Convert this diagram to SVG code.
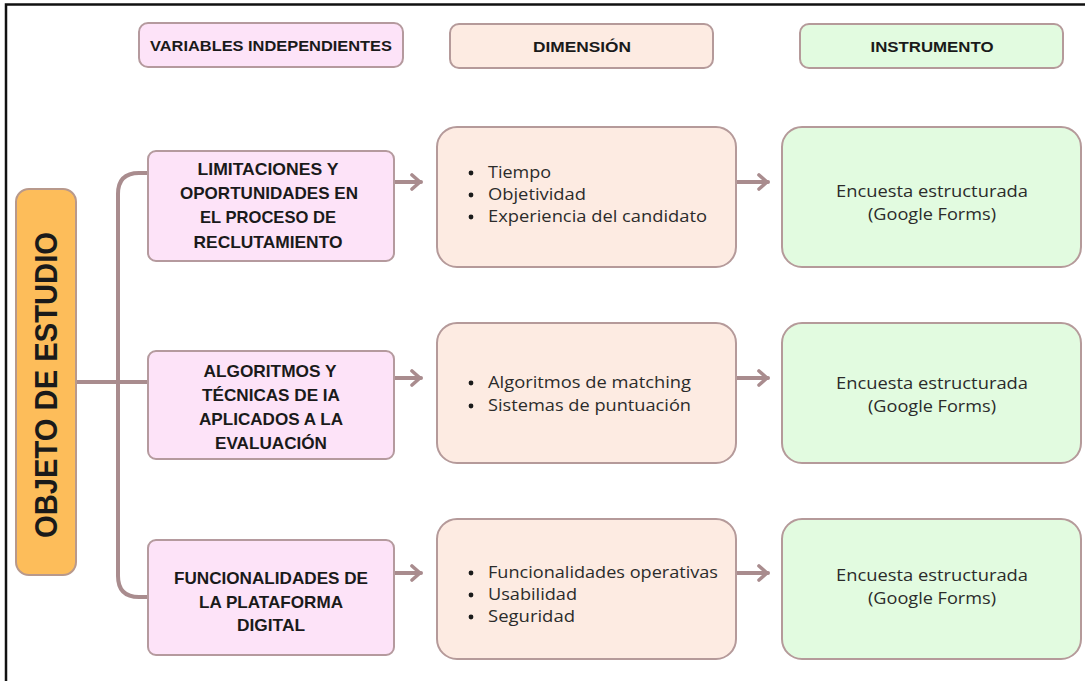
<svg xmlns="http://www.w3.org/2000/svg" width="1085" height="681" viewBox="0 0 1085 681">
  <defs>
    <style>
      .frame { fill: none; stroke: #111; stroke-width: 2.5; }
      .var { fill: #fde3f8; stroke: #b59a9e; stroke-width: 2; }
      .dim { fill: #fdebe2; stroke: #b59a9a; stroke-width: 2; }
      .ins { fill: #e2fbe0; stroke: #b59a9a; stroke-width: 2; }
      .obj { fill: #fdbd5a; stroke: #b8998c; stroke-width: 2; }
      .head { font-family: "Liberation Sans", "Arimo", sans-serif; font-weight: 700; font-size: 15.5px; fill: #1a1a1a; text-anchor: middle; }
      .vt { font-family: "Liberation Sans", "Arimo", sans-serif; font-weight: 700; font-size: 17px; fill: #1a1a1a; text-anchor: middle; }
      .bul { font-family: "Open Sans", "Liberation Sans", sans-serif; font-size: 15.5px; fill: #2b2b2b; }
      .ct { font-family: "Open Sans", "Liberation Sans", sans-serif; font-size: 15.5px; fill: #2b2b2b; text-anchor: middle; }
      .big { font-family: "Liberation Sans", "Arimo", sans-serif; font-weight: 700; font-size: 31px; fill: #1a1a1a; text-anchor: middle; }
      .dot { fill: #1a1a1a; }
      .link { fill: none; stroke: #a98c8e; stroke-width: 4; stroke-linecap: round; stroke-linejoin: round; }
    </style>
    <marker id="chev" viewBox="0 0 12 18" refX="11" refY="9" markerWidth="12" markerHeight="18" markerUnits="userSpaceOnUse" orient="auto">
      <path d="M2 2 L10 9 L2 16" fill="none" stroke="#a98c8e" stroke-width="3.6" stroke-linecap="round" stroke-linejoin="round"/>
    </marker>
  </defs>

  <rect width="1085" height="681" fill="#ffffff"/>
  <!-- outer frame (open at right and bottom edges) -->
  <path class="frame" d="M6 681 V4.5 H1085"/>

  <!-- column headers -->
  <g id="head-variables">
    <rect class="var" x="139" y="23" width="264" height="44" rx="9"/>
    <text class="head" x="271" y="50.5" textLength="242" lengthAdjust="spacingAndGlyphs">VARIABLES INDEPENDIENTES</text>
  </g>
  <g id="head-dimension">
    <rect class="dim" x="450" y="24" width="263" height="44" rx="9"/>
    <text class="head" x="582" y="51.5" textLength="98" lengthAdjust="spacingAndGlyphs">DIMENSIÓN</text>
  </g>
  <g id="head-instrumento">
    <rect class="ins" x="800" y="24" width="263" height="44" rx="9"/>
    <text class="head" x="932" y="51.5" textLength="123" lengthAdjust="spacingAndGlyphs">INSTRUMENTO</text>
  </g>

  <!-- connectors -->
  <g id="connectors">
    <path class="link" d="M76 382 H148"/>
    <path class="link" d="M148 173 H139 Q118 173 118 194 V576 Q118 597 139 597 H148"/>
    <path class="link" d="M395 182 H421" marker-end="url(#chev)"/>
    <path class="link" d="M737 182 H768" marker-end="url(#chev)"/>
    <path class="link" d="M395 378 H421" marker-end="url(#chev)"/>
    <path class="link" d="M737 378 H768" marker-end="url(#chev)"/>
    <path class="link" d="M395 573 H421" marker-end="url(#chev)"/>
    <path class="link" d="M737 573 H768" marker-end="url(#chev)"/>
  </g>

  <!-- study object -->
  <g id="objeto">
    <rect class="obj" x="16" y="189" width="60" height="386" rx="13"/>
    <text class="big" transform="translate(57 385) rotate(-90)" textLength="306" lengthAdjust="spacingAndGlyphs">OBJETO DE ESTUDIO</text>
  </g>

  <!-- row 1 -->
  <g id="var-1">
    <rect class="var" x="148" y="151" width="246" height="110" rx="8"/>
    <text class="vt" x="268" y="175" textLength="141" lengthAdjust="spacingAndGlyphs">LIMITACIONES Y</text>
    <text class="vt" x="269" y="199" textLength="178" lengthAdjust="spacingAndGlyphs">OPORTUNIDADES EN</text>
    <text class="vt" x="268" y="223" textLength="136" lengthAdjust="spacingAndGlyphs">EL PROCESO DE</text>
    <text class="vt" x="268" y="248" textLength="149" lengthAdjust="spacingAndGlyphs">RECLUTAMIENTO</text>
  </g>
  <g id="dim-1">
    <rect class="dim" x="437" y="127" width="299" height="140" rx="20"/>
    <circle class="dot" cx="471" cy="173" r="2.4"/><text class="bul" x="488" y="178" textLength="63" lengthAdjust="spacingAndGlyphs">Tiempo</text>
    <circle class="dot" cx="471" cy="195" r="2.4"/><text class="bul" x="488" y="200" textLength="98" lengthAdjust="spacingAndGlyphs">Objetividad</text>
    <circle class="dot" cx="471" cy="217" r="2.4"/><text class="bul" x="488" y="222" textLength="219" lengthAdjust="spacingAndGlyphs">Experiencia del candidato</text>
  </g>
  <g id="ins-1">
    <rect class="ins" x="782" y="127" width="299" height="140" rx="20"/>
    <text class="ct" x="932" y="197" textLength="192" lengthAdjust="spacingAndGlyphs">Encuesta estructurada</text>
    <text class="ct" x="932" y="220" textLength="128" lengthAdjust="spacingAndGlyphs">(Google Forms)</text>
  </g>

  <!-- row 2 -->
  <g id="var-2">
    <rect class="var" x="148" y="351" width="246" height="108" rx="8"/>
    <text class="vt" x="270" y="377" textLength="133" lengthAdjust="spacingAndGlyphs">ALGORITMOS Y</text>
    <text class="vt" x="271" y="401" textLength="138" lengthAdjust="spacingAndGlyphs">TÉCNICAS DE IA</text>
    <text class="vt" x="271" y="425" textLength="144" lengthAdjust="spacingAndGlyphs">APLICADOS A LA</text>
    <text class="vt" x="271" y="449" textLength="112" lengthAdjust="spacingAndGlyphs">EVALUACIÓN</text>
  </g>
  <g id="dim-2">
    <rect class="dim" x="437" y="323" width="299" height="140" rx="20"/>
    <circle class="dot" cx="471" cy="383" r="2.4"/><text class="bul" x="488" y="388" textLength="203" lengthAdjust="spacingAndGlyphs">Algoritmos de matching</text>
    <circle class="dot" cx="471" cy="406" r="2.4"/><text class="bul" x="488" y="411" textLength="203" lengthAdjust="spacingAndGlyphs">Sistemas de puntuación</text>
  </g>
  <g id="ins-2">
    <rect class="ins" x="782" y="323" width="299" height="140" rx="20"/>
    <text class="ct" x="932" y="389" textLength="192" lengthAdjust="spacingAndGlyphs">Encuesta estructurada</text>
    <text class="ct" x="932" y="412" textLength="128" lengthAdjust="spacingAndGlyphs">(Google Forms)</text>
  </g>

  <!-- row 3 -->
  <g id="var-3">
    <rect class="var" x="148" y="540" width="246" height="115" rx="8"/>
    <text class="vt" x="271" y="584" textLength="194" lengthAdjust="spacingAndGlyphs">FUNCIONALIDADES DE</text>
    <text class="vt" x="271" y="608" textLength="144" lengthAdjust="spacingAndGlyphs">LA PLATAFORMA</text>
    <text class="vt" x="271" y="631" textLength="68" lengthAdjust="spacingAndGlyphs">DIGITAL</text>
  </g>
  <g id="dim-3">
    <rect class="dim" x="437" y="519" width="299" height="140" rx="20"/>
    <circle class="dot" cx="471" cy="573" r="2.4"/><text class="bul" x="488" y="578" textLength="230" lengthAdjust="spacingAndGlyphs">Funcionalidades operativas</text>
    <circle class="dot" cx="471" cy="595" r="2.4"/><text class="bul" x="488" y="600" textLength="89" lengthAdjust="spacingAndGlyphs">Usabilidad</text>
    <circle class="dot" cx="471" cy="617" r="2.4"/><text class="bul" x="488" y="622" textLength="87" lengthAdjust="spacingAndGlyphs">Seguridad</text>
  </g>
  <g id="ins-3">
    <rect class="ins" x="782" y="519" width="299" height="140" rx="20"/>
    <text class="ct" x="932" y="581" textLength="192" lengthAdjust="spacingAndGlyphs">Encuesta estructurada</text>
    <text class="ct" x="932" y="604" textLength="128" lengthAdjust="spacingAndGlyphs">(Google Forms)</text>
  </g>
</svg>
